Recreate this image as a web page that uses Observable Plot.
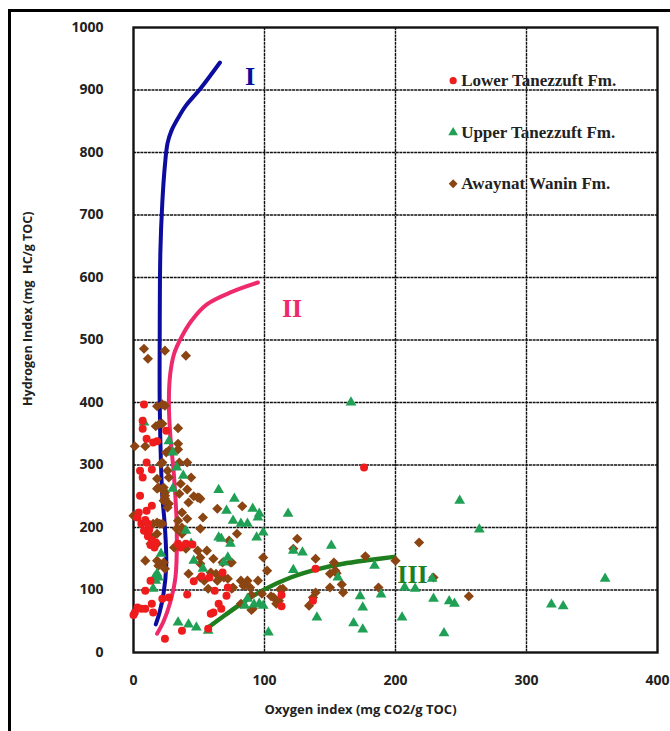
<!DOCTYPE html>
<html><head><meta charset="utf-8">
<script src="https://cdn.jsdelivr.net/npm/d3@7"></script>
<script src="https://cdn.jsdelivr.net/npm/@observablehq/plot@0.6"></script>
<style>
html,body{margin:0;padding:0;background:#fff;overflow:hidden;}
#wrap{position:relative;width:670px;height:731px;overflow:hidden;}
#border{position:absolute;left:8px;top:9px;width:700px;height:800px;border-left:3px solid #000;border-top:3px solid #000;}
#chart{position:absolute;left:0;top:0;}
</style></head><body><div id="wrap"><div id="border"></div><div id="chart"></div></div>
<script>
// Axis ticks
const xTicks = [0, 100, 200, 300, 400];
const yTicks = [0, 100, 200, 300, 400, 500, 600, 700, 800, 900, 1000];
const xGrid = [100, 200, 300];
const yGrid = [100, 200, 300, 400, 500, 600, 700, 800, 900];

// Kerogen type evolution curves [OI, HI]
const typeI = [[17,45],[20,65],[23,95],[25,140],[24,200],[22,250],[21,300],[20,400],[20,500],[20.5,640],[22,720],[24,780],[26,815],[29,835],[34,855],[40,875],[51,902],[66,944]];
const typeII = [[18,30],[23,50],[28,80],[32,120],[33,200],[31,280],[28,350],[27,400],[28,445],[31,478],[36,502],[44,530],[56,557],[75,577],[95,592]];
const typeIII = [[57,40],[70,60],[85,82],[100,101],[120,120],[140,133],[160,142],[180,148],[199,153]];

// Samples [OI, HI]
const lowerTanezzuft = [[8,397],[7,371],[7,358],[10,342],[15,336],[18,338],[25,355],[10,304],[5,291],[7,280],[14,293],[5,251],[10,227],[4,224],[3,216],[6,206],[11,206],[8,195],[11,186],[14,180],[13,172],[16,168],[14,235],[9,212],[12,196],[17,176],[45,173],
[9,99],[22,86],[27,88],[3,72],[1,64],[0,60],[9,70],[14,78],[15,64],[6,70],[24,22],[37,35],[41,93],[46,114],[13,115],[58,120],[52,122],[59,62],[61,64],[62,99],[65,78],[67,70],[71,91],[57,38],[68,128],[72,104],[34,174],[40,174],[36,168],[113,92],[113,74],[137,83],[139,134],[176,296]];
const upperTanezzuft = [[8,368],[27,338],[30,320],[33,296],[38,283],[30,262],[65,260],[77,246],[71,227],[76,211],[82,206],[87,206],[91,230],[96,222],[95,216],[99,192],[94,184],[65,184],[67,182],[74,174],[118,222],[122,163],[129,160],[151,171],[122,132],[72,152],[69,144],[87,86],[92,77],[96,78],[99,75],[85,75],[140,56],[103,32],[57,35],[48,40],[42,45],[34,48],[18,126],[16,120],[19,120],[17,115],[21,158],[15,102],[40,195],[44,174],[46,147],[53,134],[166,400],[249,243],[264,197],[184,139],[173,90],[175,72],[168,47],[175,37],[189,93],[156,120],[207,104],[215,102],[205,56],[229,86],[241,82],[245,78],[237,31],[228,118],[319,77],[328,74],[360,118]];
const awaynatWanin = [[8,486],[11,470],[24,483],[40,475],[18,394],[22,397],[24,395],[20,366],[22,366],[17,362],[34,359],[1,330],[9,330],[25,320],[27,323],[34,334],[34,325],[22,304],[26,291],[35,304],[41,304],[27,280],[44,280],[18,278],[36,270],[23,264],[18,262],[41,261],[24,256],[46,250],[50,248],[24,246],
[0,219],[9,147],[18,147],[23,144],[15,206],[22,206],[18,190],[14,184],[13,174],[18,174],[19,264],[23,259],[24,251],[23,243],[26,232],[35,254],[37,224],[41,214],[37,200],[37,190],[51,198],[42,240],[49,248],[51,246],[64,230],[83,234],[79,190],[73,179],[31,168],[40,166],[49,163],[51,152],[56,163],[61,150],[68,144],[74,144],[51,142],[24,134],[19,139],[42,126],[51,120],[54,115],[59,128],[63,126],[66,123],[64,115],[69,120],[72,118],[76,104],[82,115],[87,115],[84,107],[89,104],[95,115],[57,102],[82,78],[91,70],[99,152],[102,131],[125,182],[122,166],[139,150],[137,88],[134,75],[114,102],[107,88],[111,83],[153,144],[150,104],[154,131],[150,126],[159,109],[160,96],[177,154],[187,104],[200,147],[218,176],[229,120],[256,90],[75,144],[98,94],[105,90],[109,78],[112,101],[139,96],[155,127],[90,92],[90,68],[75,102],[53,216],[34,211],[20,206],[33,198],[21,302],[27,238],[18,208]];

// Legend and labels
const legendLabels = ["Lower Tanezzuft Fm.", "Upper Tanezzuft Fm.", "Awaynat Wanin Fm."];
const legendX = 244;
const legendY = [915, 832, 750];
const curveLabels = ["I", "II", "III"];
const curveLabelX = [89, 121, 213];
const curveLabelY = [922, 550, 125];
const xTitle = "Oxygen index (mg CO2/g TOC)";
const yTitle = "Hydrogen Index (mg  HC/g TOC)";

const cRed = "#ee1c1c", cGreen = "#1fa055", cBrown = "#8b4513";
const cBlue = "#0c0c9e", cPink = "#ee2a6c", cDkGreen = "#1f7f1f";
const px = d => d[0], py = d => d[1];
const serif = "'Liberation Serif', 'Times New Roman', serif";
const fmt = d3.format("d");

const plot = Plot.plot({
  width: 670, height: 731,
  marginLeft: 133, marginRight: 13, marginTop: 27, marginBottom: 79,
  x: {domain: [0, 400]},
  y: {domain: [0, 1000]},
  style: {background: "transparent", fontFamily: "'Open Sans', sans-serif", color: "#222"},
  marks: [
    Plot.gridX(xGrid, {stroke: "#111", strokeOpacity: 1, strokeWidth: 1.4, strokeDasharray: "3,0.7"}),
    Plot.gridY(yGrid, {stroke: "#111", strokeOpacity: 1, strokeWidth: 1.4, strokeDasharray: "3,0.7"}),
    Plot.frame({stroke: "#111", strokeWidth: 2.4}),
    Plot.axisX(xTicks, {tickSize: 0, tickPadding: 23, tickFormat: fmt, fontWeight: "bold", fontSize: 14, label: null}),
    Plot.axisY(yTicks, {tickSize: 0, tickPadding: 30, tickFormat: fmt, fontWeight: "bold", fontSize: 14, label: null}),
    Plot.text([xTitle], {frameAnchor: "bottom", dy: 61, dx: -35, fontWeight: "bold", fontSize: 13, fill: "#222"}),
    Plot.text([yTitle], {frameAnchor: "left", rotate: -90, dx: -106, dy: 66, fontWeight: "bold", fontSize: 12.5, fill: "#222"}),
    Plot.line(typeI, {x: px, y: py, stroke: cBlue, strokeWidth: 4, curve: "catmull-rom"}),
    Plot.line(typeII, {x: px, y: py, stroke: cPink, strokeWidth: 4, curve: "catmull-rom"}),
    Plot.line(typeIII, {x: px, y: py, stroke: cDkGreen, strokeWidth: 4.5, curve: "catmull-rom"}),
    Plot.dot(awaynatWanin, {x: px, y: py, symbol: "diamond2", r: 4.6, fill: cBrown, stroke: "none"}),
    Plot.dot(upperTanezzuft, {x: px, y: py, symbol: "triangle", r: 4, fill: cGreen, stroke: "none"}),
    Plot.dot(lowerTanezzuft, {x: px, y: py, symbol: "circle", r: 4, fill: cRed, stroke: "none"}),
    Plot.text(curveLabels, {x: (d, i) => curveLabelX[i], y: (d, i) => curveLabelY[i], text: d => d,
      fill: (d, i) => [cBlue, cPink, cDkGreen][i], fontFamily: serif, fontWeight: "bold", fontSize: 26}),
    Plot.dot([legendLabels[0]], {x: () => legendX, y: () => legendY[0], symbol: "circle", r: 3.6, fill: cRed}),
    Plot.dot([legendLabels[1]], {x: () => legendX, y: () => legendY[1], symbol: "triangle", r: 3.6, fill: cGreen}),
    Plot.dot([legendLabels[2]], {x: () => legendX, y: () => legendY[2], symbol: "diamond2", r: 4, fill: cBrown}),
    Plot.text(legendLabels, {x: () => legendX, y: (d, i) => legendY[i], text: d => d, dx: 8, textAnchor: "start",
      fontFamily: serif, fontWeight: "bold", fontSize: 17, fill: "#222", letterSpacing: "0.8px"})
  ]
});
document.getElementById("chart").appendChild(plot);
</script>
</body></html>
